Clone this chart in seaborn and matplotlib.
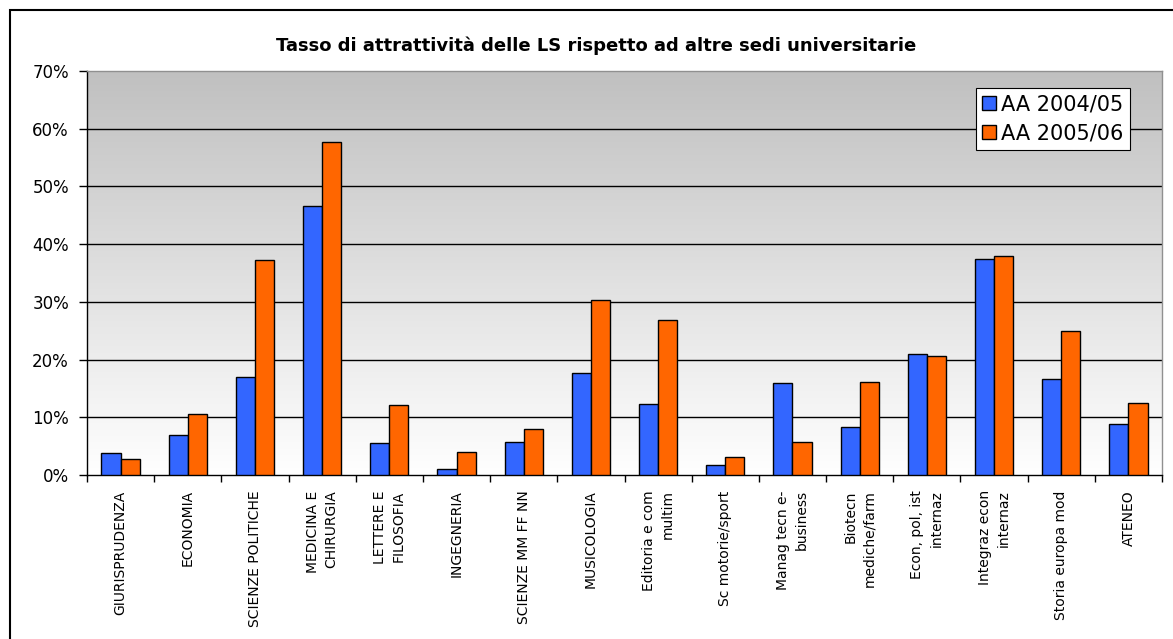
import numpy as np
import pandas as pd
import seaborn as sns
import matplotlib.pyplot as plt
from matplotlib.colors import LinearSegmentedColormap
from matplotlib.patches import Rectangle
from matplotlib.ticker import FuncFormatter

# ---- data ----
categories = [
    "GIURISPRUDENZA", "ECONOMIA", "SCIENZE POLITICHE", "MEDICINA E\nCHIRURGIA",
    "LETTERE E\nFILOSOFIA", "INGEGNERIA", "SCIENZE MM FF NN", "MUSICOLOGIA",
    "Editoria e com\nmultim", "Sc motorie/sport", "Manag tecn e-\nbusiness",
    "Biotecn\nmediche/farm", "Econ, pol, ist\ninternaz", "Integraz econ\ninternaz",
    "Storia europa mod", "ATENEO",
]
aa_2004_05 = [0.038, 0.069, 0.170, 0.466, 0.056, 0.010, 0.058, 0.177,
              0.123, 0.017, 0.159, 0.083, 0.209, 0.374, 0.167, 0.089]
aa_2005_06 = [0.028, 0.105, 0.373, 0.577, 0.121, 0.040, 0.080, 0.303,
              0.268, 0.031, 0.058, 0.161, 0.206, 0.379, 0.249, 0.125]
series_names = ["AA 2004/05", "AA 2005/06"]
y_ticks = [0.0, 0.1, 0.2, 0.3, 0.4, 0.5, 0.6, 0.7]
title = "Tasso di attrattività delle LS rispetto ad altre sedi universitarie"

n = len(categories)
df = pd.DataFrame({
    "Facoltà": categories * 2,
    "Valore": aa_2004_05 + aa_2005_06,
    "Anno": [series_names[0]] * n + [series_names[1]] * n,
})

W, H = 1173, 639
fig = plt.figure(figsize=(W / 100, H / 100), dpi=100)
fig.patch.set_facecolor("white")

L, R, T, B = 87, 1162, 71, 475
ax = fig.add_axes([L / W, 1 - B / H, (R - L) / W, (B - T) / H])

# gradient background
cmap = LinearSegmentedColormap.from_list("bg", ["#ffffff", "#c0c0c0"])
grad = np.linspace(0, 1, 256).reshape(-1, 1)
ax.imshow(grad, extent=[-0.5, n - 0.5, 0, 0.7], origin="lower", aspect="auto",
          cmap=cmap, zorder=0, interpolation="bicubic")

sns.barplot(data=df, x="Facoltà", y="Valore", hue="Anno",
            palette=["#3366FF", "#FF6600"], width=0.57, gap=0,
            edgecolor="black", linewidth=1.0, saturation=1, ax=ax, zorder=3)

ax.set_xlim(-0.5, n - 0.5)
ax.set_ylim(0, 0.7)
ax.set_xlabel("")
ax.set_ylabel("")

ax.set_yticks(y_ticks)
ax.yaxis.set_major_formatter(FuncFormatter(lambda v, p: f"{v * 100:.0f}%"))
ax.tick_params(axis="y", direction="out", length=6, width=1, labelsize=12,
               pad=7, colors="black")
for y in y_ticks[1:-1]:
    ax.axhline(y, color="black", lw=1.0, zorder=1)

ax.set_xticks(range(n))
ax.set_xticklabels(categories, rotation=90, va="top", ha="center",
                   multialignment="right", fontsize=10, linespacing=1.45)
ax.tick_params(axis="x", which="major", length=0, pad=11)
ax.set_xticks(np.arange(-0.5, n, 1), minor=True)
ax.tick_params(axis="x", which="minor", direction="out", length=5, width=1,
               color="black")

for s in ["top", "right"]:
    ax.spines[s].set_color("#909090")
    ax.spines[s].set_linewidth(1)
for s in ["left", "bottom"]:
    ax.spines[s].set_color("black")
    ax.spines[s].set_linewidth(1)

leg = ax.legend(loc="upper left", bbox_to_anchor=((976 - L) / (R - L), (B - 88) / (B - T)),
                fontsize=15, frameon=True, fancybox=False, framealpha=1,
                edgecolor="black", handlelength=0.65, handleheight=0.65,
                handletextpad=0.25, borderpad=0.3, labelspacing=0.45,
                borderaxespad=0)
leg.get_frame().set_linewidth(0.8)
leg.set_zorder(10)

fig.text(596 / W, 1 - 46 / H, title, ha="center", va="center",
         fontsize=13, fontweight="bold")

fig.patches.append(Rectangle((10 / W, -0.1), 1.2, 1 - 10 / H + 0.1,
                             transform=fig.transFigure, fill=False,
                             edgecolor="black", lw=1.5, clip_on=False))

fig.savefig("out.png", dpi=100, facecolor="white")
